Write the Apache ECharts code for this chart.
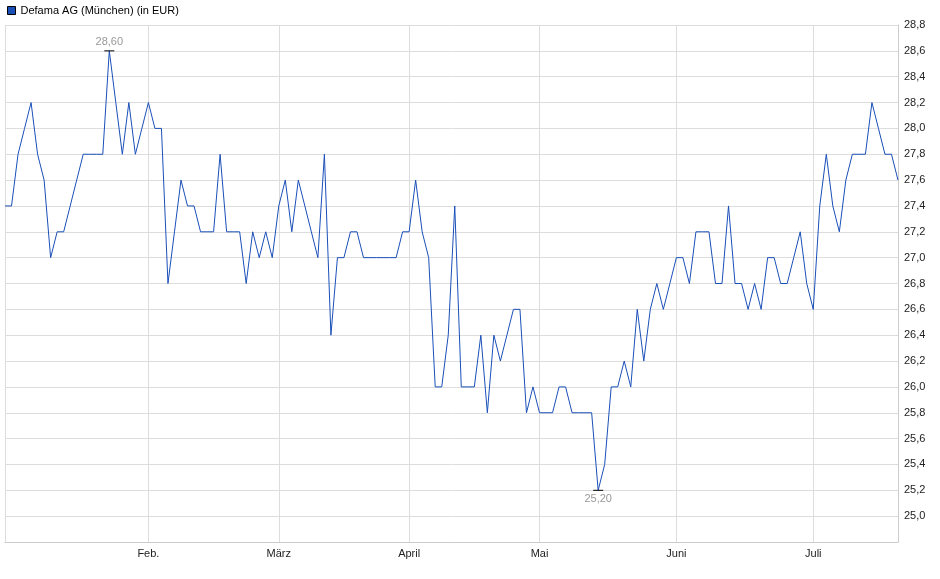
<!DOCTYPE html>
<html>
<head>
<meta charset="utf-8">
<script src="https://cdn.jsdelivr.net/npm/echarts@6/dist/echarts.min.js"></script>
<style>
  html, body { margin: 0; padding: 0; background: #fff; }
  #chart { width: 940px; height: 579px; }
</style>
</head>
<body>
<div id="chart"></div>
<script>
const seriesName = "Defama AG (München) (in EUR)";

// Kurs pro Handelstag
const prices = [
    27.4, 27.4, 27.8, 28.0, 28.2, 27.8, 27.6, 27.0, 27.2, 27.2,
    27.4, 27.6, 27.8, 27.8, 27.8, 27.8, 28.6, 28.2, 27.8, 28.2,
    27.8, 28.0, 28.2, 28.0, 28.0, 26.8, 27.2, 27.6, 27.4, 27.4,
    27.2, 27.2, 27.2, 27.8, 27.2, 27.2, 27.2, 26.8, 27.2, 27.0,
    27.2, 27.0, 27.4, 27.6, 27.2, 27.6, 27.4, 27.2, 27.0, 27.8,
    26.4, 27.0, 27.0, 27.2, 27.2, 27.0, 27.0, 27.0, 27.0, 27.0,
    27.0, 27.2, 27.2, 27.6, 27.2, 27.0, 26.0, 26.0, 26.4, 27.4,
    26.0, 26.0, 26.0, 26.4, 25.8, 26.4, 26.2, 26.4, 26.6, 26.6,
    25.8, 26.0, 25.8, 25.8, 25.8, 26.0, 26.0, 25.8, 25.8, 25.8,
    25.8, 25.2, 25.4, 26.0, 26.0, 26.2, 26.0, 26.6, 26.2, 26.6,
    26.8, 26.6, 26.8, 27.0, 27.0, 26.8, 27.2, 27.2, 27.2, 26.8,
    26.8, 27.4, 26.8, 26.8, 26.6, 26.8, 26.6, 27.0, 27.0, 26.8,
    26.8, 27.0, 27.2, 26.8, 26.6, 27.4, 27.8, 27.4, 27.2, 27.6,
    27.8, 27.8, 27.8, 28.2, 28.0, 27.8, 27.8, 27.6
];

// Monatsanfang: Index -> Beschriftung
const monthIndex = [22, 42, 62, 82, 103, 124];
const monthLabels = ["Feb.", "März", "April", "Mai", "Juni", "Juli"];

const days = prices.map((_, i) => String(i));
const isMonth = i => monthIndex.indexOf(i) >= 0;
const fmt = v => v.toFixed(2).replace(".", ",");

const chart = echarts.init(document.getElementById("chart"));
chart.setOption({
    animation: false,
    textStyle: { fontFamily: "Arial, 'Liberation Sans', sans-serif" },
    legend: {
        left: 2, top: 0, itemWidth: 8, itemHeight: 8, itemGap: 4,
        icon: "rect",
        textStyle: { fontSize: 11, color: "#000" },
        data: [{ name: seriesName, itemStyle: { color: "#1a4fb8", borderColor: "#000", borderWidth: 1 } }]
    },
    grid: { left: 5, right: 42, top: 25, bottom: 37 },
    xAxis: {
        type: "category",
        data: days,
        boundaryGap: false,
        axisLine: { show: true, lineStyle: { color: "#ccc" } },
        axisTick: { show: false },
        axisLabel: {
            interval: (i) => isMonth(i),
            formatter: (v, i) => monthLabels[monthIndex.indexOf(i)] || "",
            fontSize: 11, color: "#222", margin: 6
        },
        splitLine: { show: true, interval: (i) => isMonth(i) || i === 0, lineStyle: { color: "#ddd" } }
    },
    yAxis: {
        type: "value",
        position: "right",
        min: 24.8, max: 28.8, interval: 0.2,
        axisLine: { show: true, lineStyle: { color: "#ccc" } },
        axisTick: { show: false },
        axisLabel: {
            fontSize: 11, color: "#222", margin: 6,
            formatter: v => v < 24.9 ? "" : v.toFixed(1).replace(".", ",")
        },
        splitLine: { lineStyle: { color: "#ddd" } }
    },
    series: [{
        name: seriesName,
        type: "line",
        data: prices,
        symbol: "none",
        color: "#1a4fb8",
        lineStyle: { width: 1, color: "#1a4fb8" },
        markPoint: {
            symbol: "rect",
            symbolSize: [10, 1],
            itemStyle: { color: "#000" },
            label: { show: true, fontSize: 11, color: "#999", formatter: p => fmt(p.value) },
            data: [
                { type: "max", label: { position: "top", distance: 3 } },
                { type: "min", label: { position: "bottom", distance: 3 } }
            ]
        }
    }]
});
</script>
</body>
</html>
